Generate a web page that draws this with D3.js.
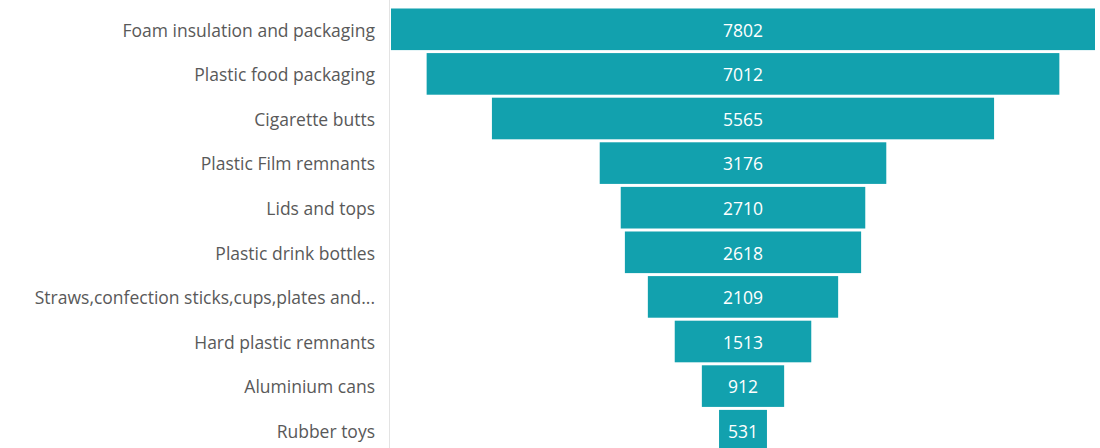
<!DOCTYPE html>
<html>
<head>
<meta charset="utf-8">
<script src="https://cdn.jsdelivr.net/npm/d3@7"></script>
<style>
  html, body { margin: 0; padding: 0; background: #fff; }
  svg { display: block; }
</style>
</head>
<body>
<svg id="chart" width="1100" height="448"></svg>
<script>
// Marine litter items counted, largest first
const categories = [
  "Foam insulation and packaging",
  "Plastic food packaging",
  "Cigarette butts",
  "Plastic Film remnants",
  "Lids and tops",
  "Plastic drink bottles",
  "Straws,confection sticks,cups,plates and...",
  "Hard plastic remnants",
  "Aluminium cans",
  "Rubber toys"
];
const counts = [7802, 7012, 5565, 3176, 2710, 2618, 2109, 1513, 912, 531];

const svg = d3.select("#chart");
const plotLeft = 391, plotRight = 1095;
const center = (plotLeft + plotRight) / 2;
const fontStack = "'Open Sans', 'Segoe UI', sans-serif";

const y = d3.scaleBand()
  .domain(categories)
  .range([7, 453])
  .paddingInner(0.067)
  .paddingOuter(0.0335);

// half-width scale so each bar is centred on the funnel axis
const w = d3.scaleLinear()
  .domain([0, d3.max(counts)])
  .range([0, (plotRight - plotLeft) / 2]);

const data = categories.map((c, i) => ({ name: c, value: counts[i] }));

// separator between labels and funnel
svg.append("line")
  .attr("x1", 389.5).attr("x2", 389.5)
  .attr("y1", 0).attr("y2", 448)
  .attr("stroke", "#e3e3e3").attr("stroke-width", 1);

svg.selectAll("rect.bar")
  .data(data)
  .join("rect")
  .attr("class", "bar")
  .attr("x", d => center - w(d.value))
  .attr("width", d => 2 * w(d.value))
  .attr("y", d => y(d.name))
  .attr("height", y.bandwidth())
  .attr("fill", "#12a1ae");

svg.selectAll("text.value")
  .data(data)
  .join("text")
  .attr("class", "value")
  .attr("x", center)
  .attr("y", d => y(d.name) + y.bandwidth() / 2)
  .attr("dy", "0.42em")
  .attr("text-anchor", "middle")
  .attr("fill", "#ffffff")
  .style("font-family", fontStack)
  .style("font-size", "17.5px")
  .text(d => d.value);

// category axis on the left
const axis = d3.axisLeft(y).tickSize(0).tickPadding(14);
const g = svg.append("g")
  .attr("transform", "translate(389,0)")
  .call(axis);
g.select(".domain").remove();
g.selectAll("text")
  .attr("dy", "0.42em")
  .attr("fill", "#595959")
  .style("font-family", fontStack)
  .style("font-size", "17.5px");
</script>
</body>
</html>
